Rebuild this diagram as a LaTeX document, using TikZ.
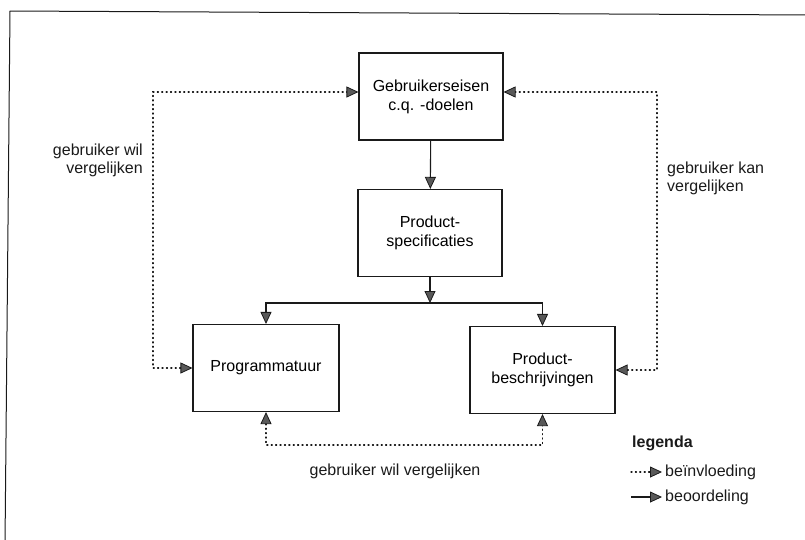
\documentclass[tikz,border=0pt]{standalone}
\usepackage{fontspec}
\setmainfont{Liberation Sans}
\usetikzlibrary{arrows.meta,positioning,calc}
\definecolor{inkt}{HTML}{1A1A1A}
\definecolor{punt}{HTML}{595959}
\tikzset{
  pijl/.tip={Triangle[length=12pt,width=11pt,fill=punt,line width=0.8pt]},
  blok/.style={draw=inkt,line width=1.1pt,minimum width=144pt,minimum height=87pt,
    align=center,font=\fontsize{16}{19}\selectfont,inner sep=2pt},
  beoordeel/.style={draw=inkt,line width=1.1pt,-pijl},
  beinvloed/.style={draw=inkt,line width=1.3pt,dash pattern=on 1pt off 3.4pt,line cap=round},
  tekst/.style={font=\fontsize{16}{18}\selectfont,text=inkt,inner sep=0pt}
}

\begin{document}
\begin{tikzpicture}[x=1pt,y=-1pt]
  \useasboundingbox (0,0) rectangle (805,539);
  % kader
  \draw[inkt,line width=1pt] (5,545) -- (10,11) -- (810,15);
  % blokken
  \node[blok] (eisen) at (431,96.5) {Gebruikerseisen\\c.q. -doelen};
  \node[blok] (spec) at (430,233) {Product-\\specificaties};
  \node[blok,minimum width=146pt] (prog) at (266,368) {Programmatuur};
  \node[blok,minimum width=145pt] (pbes) at (542.5,370) {Product-\\beschrijvingen};
  % beoordeling
  \coordinate (split) at (430,303);
  \draw[beoordeel] (eisen) -- (spec);
  \draw[beoordeel] (spec) -- (split);
  \draw[beoordeel] (split) -| (prog);
  \draw[beoordeel] (split) -| (pbes);
  % beinvloeding
  \coordinate (lb) at (153,368);
  \coordinate (lt) at (153,92);
  \coordinate (rb) at (657,370);
  \coordinate (rt) at (657,92);
  \coordinate (ol) at (266,445);
  \coordinate (or) at (542.5,445);
  \draw[beinvloed,pijl-pijl] (prog.west) -- (lb) -- (lt) -- (lt -| eisen.west);
  \draw[beinvloed,pijl-pijl] (pbes.east) -- (rb) -- (rt) -- (rt -| eisen.east);
  \draw[beinvloed,pijl-pijl] (prog.south) -- (ol) -- (or) -- (pbes.south);
  % labels
  \node[tekst,align=right,anchor=east] (wil) at (143,160) {gebruiker wil\\vergelijken};
  \node[tekst,align=left,anchor=west] (kan) at (667,178) {gebruiker kan\\vergelijken};
  \node[tekst] (wilonder) at (395,471) {gebruiker wil vergelijken};
  % legenda
  \node[tekst,anchor=west,font=\fontsize{16}{18}\selectfont\bfseries] (legenda) at (632,443) {legenda};
  \coordinate (la) at (631,472);
  \coordinate (lc) at (631,497);
  \node[tekst,anchor=west] (invl) at (665,472) {beïnvloeding};
  \node[tekst,anchor=west] (oord) at (665,497) {beoordeling};
  \draw[beinvloed,-pijl] (la) -- ([xshift=-3pt]invl.west);
  \draw[beoordeel] (lc) -- ([xshift=-3pt]oord.west);
\end{tikzpicture}
\end{document}
